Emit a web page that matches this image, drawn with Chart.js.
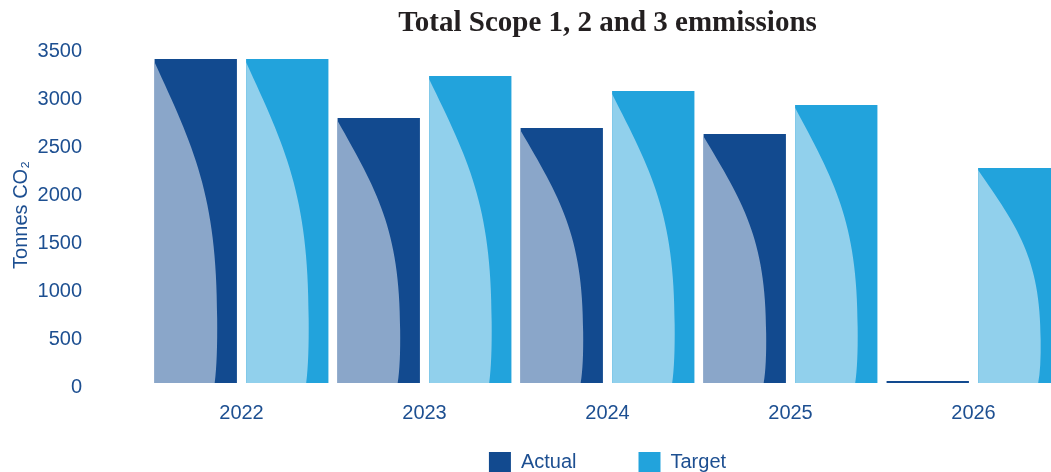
<!DOCTYPE html>
<html>
<head>
<meta charset="utf-8">
<script src="https://cdn.jsdelivr.net/npm/chart.js@4"></script>
<style>
  html, body { margin: 0; padding: 0; background: #fff; overflow: hidden; }
  #wrap { width: 1065px; height: 472px; position: relative; }
</style>
</head>
<body>
<div id="wrap"><canvas id="chart"></canvas></div>
<script>
// --- DADOS ---
const years = ['2022', '2023', '2024', '2025', '2026'];
const actualValues = [3375, 2760, 2656, 2594, 15];
const targetValues = [3375, 3198, 3042, 2896, 2240];
const yTicks = [0, 500, 1000, 1500, 2000, 2500, 3000, 3500];

const BLUE_TEXT = '#1d4f91';

// cores: base escura + "onda" clara por cima
const actualColor = '#124a8f';
const actualLight = '#8aa6c9';
const targetColor = '#22a3dc';
const targetLight = '#91d0ec';

// plugin que desenha a curva clara dentro de cada barra
const wavePlugin = {
  id: 'wave',
  afterDatasetsDraw(chart) {
    const ctx = chart.ctx;
    chart.data.datasets.forEach((ds, i) => {
      const meta = chart.getDatasetMeta(i);
      meta.data.forEach(bar => {
        const p = bar.getProps(['x', 'y', 'base', 'width'], true);
        const left = p.x - p.width / 2;
        const w = p.width;
        const top = p.y;
        const h = p.base - p.y;
        if (h < 20) return;
        const X = u => left + u * w;
        const Y = t => top + t * h;
        ctx.save();
        ctx.beginPath();
        ctx.rect(left, top, w, h);
        ctx.clip();
        ctx.beginPath();
        ctx.moveTo(X(0), Y(0.01));
        ctx.bezierCurveTo(X(0.47), Y(0.27), X(0.76), Y(0.42), X(0.76), Y(0.8));
        ctx.quadraticCurveTo(X(0.765), Y(0.93), X(0.73), Y(1.0));
        ctx.lineTo(X(0), Y(1.0));
        ctx.closePath();
        ctx.fillStyle = ds.lightColor;
        ctx.fill();
        ctx.restore();
      });
    });
  }
};

// legenda: altura fixa e itens puxados para cima
const LEGEND_H = 41;
const LEGEND_PAD = 62;
const legendTweak = {
  id: 'legendTweak',
  beforeInit(chart) {
    const lg = chart.legend;
    const fit = lg.fit;
    lg.fit = function () {
      fit.bind(lg)();
      this.height = LEGEND_H;
    };
    const draw = lg.draw;
    lg.draw = function (area) {
      const t = this.top, b = this.bottom;
      this.top = t - (LEGEND_PAD - 21);
      this.bottom = b + 30;
      draw.call(lg, area);
      this.top = t;
      this.bottom = b;
    };
  }
};

new Chart(document.getElementById('chart'), {
  type: 'bar',
  data: {
    labels: years,
    datasets: [
      { label: 'Actual', data: actualValues, backgroundColor: actualColor, lightColor: actualLight,
        barPercentage: 0.9, categoryPercentage: 1.0, minBarLength: 2 },
      { label: 'Target', data: targetValues, backgroundColor: targetColor, lightColor: targetLight,
        barPercentage: 0.9, categoryPercentage: 1.0 }
    ]
  },
  plugins: [wavePlugin, legendTweak],
  options: {
    responsive: true,
    maintainAspectRatio: false,
    animation: false,
    layout: { padding: 0 },
    scales: {
      x: {
        grid: { display: false, drawTicks: false },
        border: { display: false },
        ticks: { color: BLUE_TEXT, font: { family: 'Liberation Sans', size: 20 }, padding: 18 },
        afterFit: s => { s.height = 48; }
      },
      y: {
        min: 0, max: 3500,
        grid: { display: false, drawTicks: false },
        border: { display: false },
        afterBuildTicks: s => { s.ticks = yTicks.map(v => ({ value: v })); },
        afterFit: s => { s.width = 150; s.paddingTop = 0; s.paddingBottom = 0; },
        ticks: { color: BLUE_TEXT, font: { family: 'Liberation Sans', size: 20 }, padding: 68, labelOffset: 4,
          callback: v => String(v) },
        title: {
          display: true, text: 'Tonnes CO₂', color: BLUE_TEXT,
          font: { family: 'Liberation Sans', size: 20 }, padding: { top: 9, bottom: 0 }
        }
      }
    },
    plugins: {
      title: {
        display: true,
        fullSize: false,
        text: 'Total Scope 1, 2 and 3 emmissions',
        color: '#231f20',
        font: { family: 'Liberation Serif', size: 29, weight: 'bold' },
        padding: { top: 6.6, bottom: 5.6 }
      },
      legend: {
        position: 'bottom',
        fullSize: false,
        labels: {
          color: BLUE_TEXT,
          font: { family: 'Liberation Sans', size: 20 },
          boxWidth: 22, boxHeight: 20, padding: LEGEND_PAD
        }
      },
      tooltip: { enabled: false }
    }
  }
});
</script>
</body>
</html>
